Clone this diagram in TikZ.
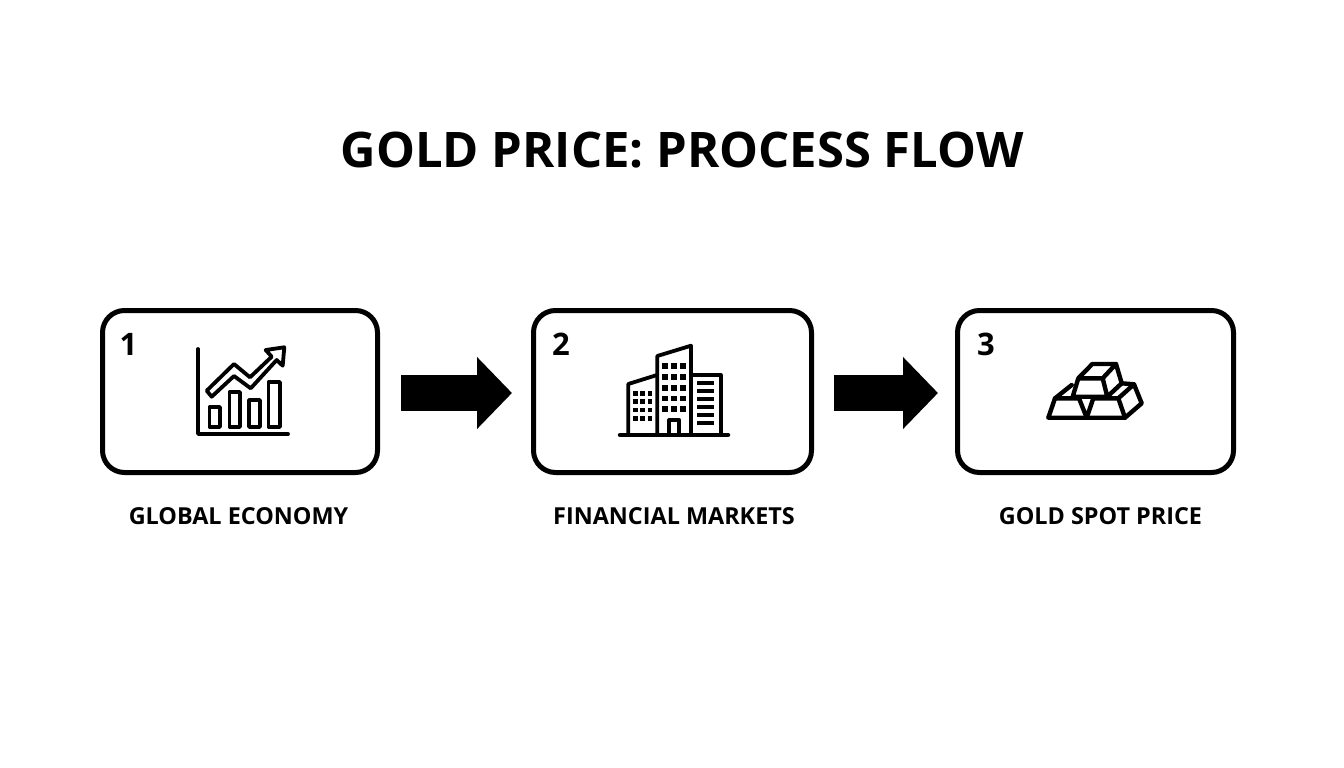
\documentclass[tikz,border=0pt]{standalone}
\usepackage{fontspec}
\setmainfont{Open Sans}
\usetikzlibrary{arrows.meta}
\tikzset{
  stagebox/.style={draw,line width=5pt,rounded corners=22pt,minimum height=162pt,inner sep=0pt},
  stagenum/.style={font=\bfseries\fontsize{31}{31}\selectfont,inner sep=0pt},
  stagelabel/.style={font=\bfseries\fontsize{23.4}{24}\selectfont,inner sep=0pt},
  flowarrow/.style={line width=36pt,-{Triangle[length=35pt,width=70pt]}},
  iconline/.style={line width=3.8pt,line join=round,line cap=round},
  goldline/.style={line width=4.4pt,line join=round,line cap=round}
}
\begin{document}
\begin{tikzpicture}[x=1pt,y=-1pt]
      \useasboundingbox (0,0) rectangle (1344,768);
      \node (Title) at (682,150) [font=\bfseries\fontsize{49}{50}\selectfont,inner sep=0pt] {GOLD PRICE: PROCESS FLOW};
      \node (Ec) at (240,391.5) [stagebox,minimum width=275pt] {};
      \node (Ma) at (672.5,391.5) [stagebox,minimum width=278pt] {};
      \node (Go) at (1095.5,391.5) [stagebox,minimum width=276pt] {};
      \node (EcNum) at (128.5,344) [stagenum] {1};
      \node (MaNum) at (561,344) [stagenum] {2};
      \node (GoNum) at (986,344) [stagenum] {3};
      \node (EcLab) at (238.5,516) [stagelabel] {GLOBAL ECONOMY};
      \node (MaLab) at (674,516) [stagelabel] {FINANCIAL MARKETS};
      \node (GoLab) at (1100.5,516) [stagelabel] {GOLD SPOT PRICE};
      \draw[flowarrow,shorten <=21pt,shorten >=19pt] ([yshift=-1.5pt]Ec.east) -- ([yshift=-1.5pt]Ma.west);
      \draw[flowarrow,shorten <=20pt,shorten >=17pt] ([yshift=-1.5pt]Ma.east) -- ([yshift=-1.5pt]Go.west);
      \draw[iconline] (198,349) -- (198,434) -- (288,434);
      \foreach \xa/\xb/\yt in {209.5/220/407,229.5/240/392,249/260/400,268.5/280/382}
        \draw[iconline] (\xa,427) rectangle (\xb,\yt);
      \draw[iconline] (206.7,390.7) -- (234,364) -- (250,377.3) -- (271.7,356.7) -- (265.7,350)
        -- (284.3,347.3) -- (282.7,365.7) -- (276.7,360) -- (250.7,388.3) -- (234,376) -- (211.7,396.7) -- cycle;
      \draw[iconline,line width=4.5pt] (620,435) -- (728,435);
      \draw[iconline] (628.3,435) -- (628.3,384) -- (657,375);
      \draw[iconline] (657.3,435) -- (657.3,356) -- (691,345.7) -- (691,435);
      \draw[iconline] (691,375) -- (720.7,375) -- (720.7,435);
      \draw[iconline] (669.3,435) -- (669.3,420) -- (679.3,420) -- (679.3,435);
      \foreach \xw in {665,674,683}
        \foreach \yw in {366,377,388,398.5,409}
          \fill (\xw-2.8,\yw-2.8) rectangle (\xw+2.8,\yw+2.8);
      \foreach \xw in {635.3,642.7,650}
        \foreach \yw in {393.3,401.7,410,418.3}
          \fill (\xw-2.3,\yw-2.3) rectangle (\xw+2.3,\yw+2.3);
      \foreach \yw in {383.3,391.3,399.3,407.3,415,422.7}
        \fill (696.7,\yw-2) rectangle (714.3,\yw+2);
      \draw[goldline] (1078.3,378.3) -- (1092.3,364) -- (1116,364) -- (1121.7,383.3) -- (1107.3,396.7)
        -- (1072.7,396.7) -- (1078.3,378.3) -- (1102.7,378.3) -- (1107.3,396.7);
      \draw[goldline] (1102.7,378.3) -- (1116,364);
      \draw[goldline] (1071.7,385) -- (1055,398.3) -- (1048.3,417.7) -- (1125,417.7) -- (1141.7,403.3)
        -- (1134,384.3) -- (1121.7,383.3);
      \draw[goldline] (1055,398.3) -- (1079,398.3) -- (1086.7,417.7) -- (1093.3,398.3) -- (1118.3,398.3) -- (1125,417.7);
      \draw[goldline] (1118.3,398.3) -- (1134,384.3);
\end{tikzpicture}
\end{document}
